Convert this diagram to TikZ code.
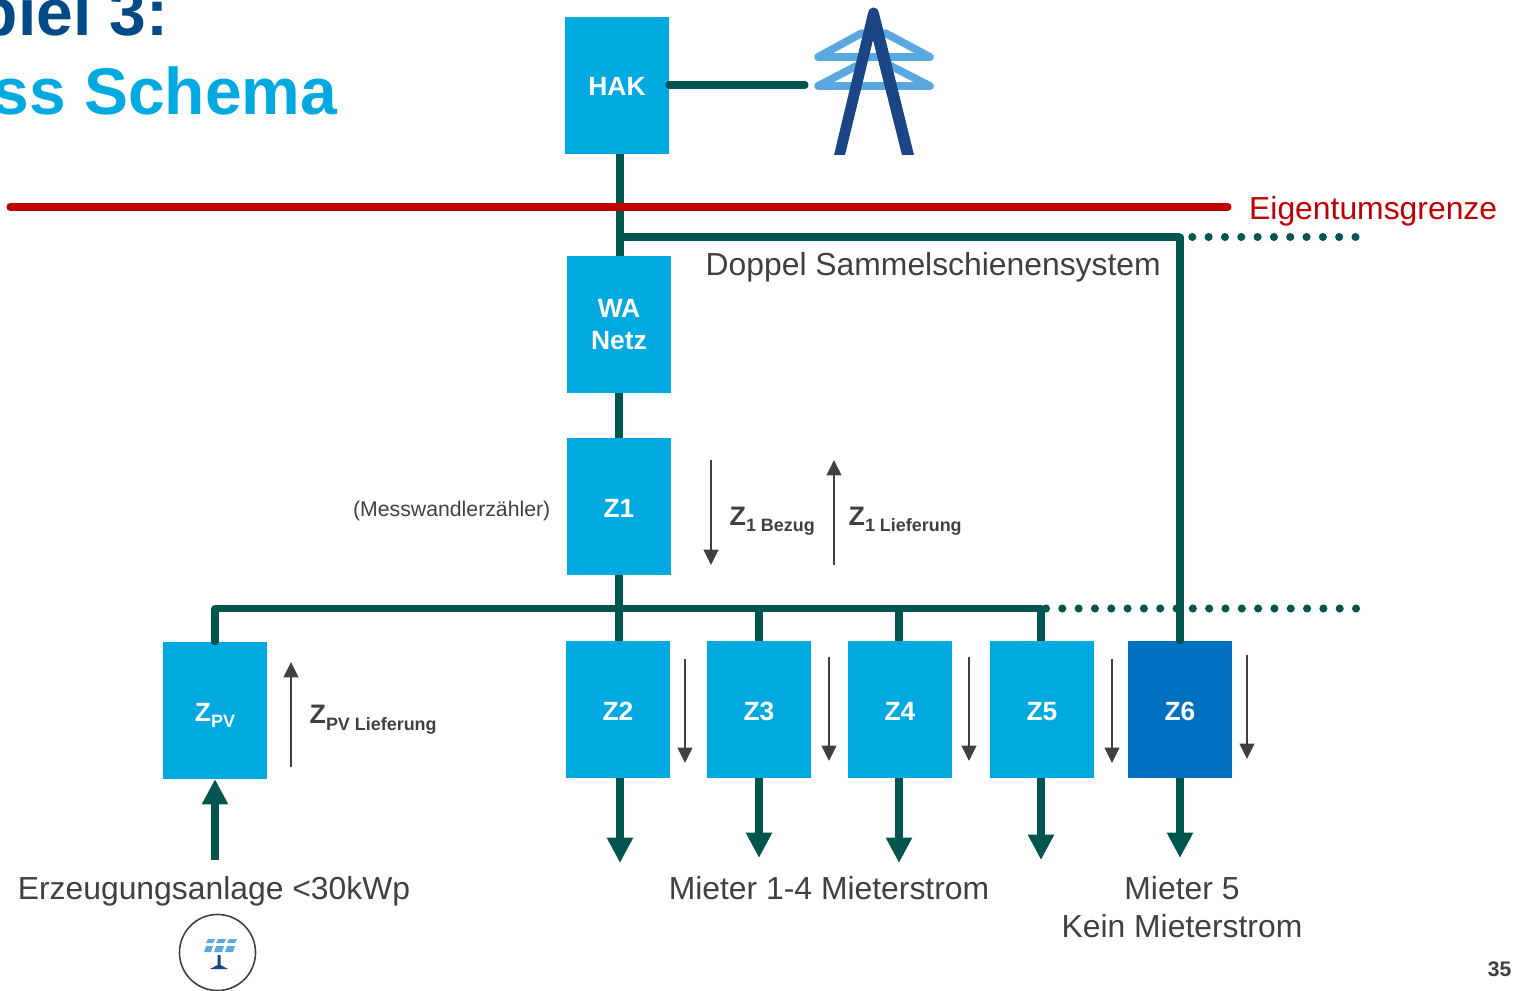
\documentclass[tikz,border=0pt]{standalone}
\usepackage{fontspec}
\setmainfont{Liberation Sans}
\usetikzlibrary{arrows.meta}
\definecolor{boxblue}{HTML}{00A9E0}
\definecolor{darkbox}{HTML}{0070C0}
\definecolor{titleblue}{HTML}{004B87}
\definecolor{busgreen}{HTML}{00564F}
\definecolor{limitred}{HTML}{C00000}
\definecolor{textgrey}{HTML}{404040}
\definecolor{masthigh}{HTML}{5BA8E0}
\definecolor{mastdark}{HTML}{1B4585}
\newcommand{\zsub}[1]{\raisebox{-0.45ex}{\fontsize{5.1pt}{6pt}\selectfont #1}}
\tikzset{
  zbox/.style={fill=boxblue,minimum width=1.04cm,minimum height=1.37cm,inner sep=0pt,outer sep=0pt,text=white,font=\fontsize{7.5pt}{9.2pt}\selectfont\bfseries,align=center},
  zline/.style={zbox,text height=6.2pt,text depth=0pt},
  busline/.style={draw=busgreen,line width=2pt,line join=round},
  feedarrow/.style={busline,-{Triangle[width=7pt,length=7.2pt]}},
  flowarrow/.style={draw=textgrey,line width=0.55pt,-{Triangle[width=4.2pt,length=4.4pt]}},
  dotline/.style={draw=busgreen,line width=2.3pt,line cap=round,dash pattern=on 0pt off 4.64pt},
  biglabel/.style={text=textgrey,font=\fontsize{9.06pt}{10.8pt}\selectfont,align=center,inner sep=0pt},
  flowlabel/.style={text=textgrey,anchor=base west,inner sep=0pt,font=\fontsize{7.6pt}{9pt}\selectfont\bfseries},
  masthighline/.style={draw=masthigh,line width=2.2pt,line join=round,line cap=round}
}
\begin{document}
\begin{tikzpicture}[x=0.01cm,y=-0.01cm]
\useasboundingbox (0,0) rectangle (1517,991);
\clip (0,0) rectangle (1517,991);
\node[anchor=base east,inner sep=0pt,text=titleblue,font=\fontsize{18.75pt}{20pt}\selectfont\bfseries] (title1) at (169,36) {piel 3:};
\node[anchor=base east,inner sep=0pt,text=boxblue,font=\fontsize{18.75pt}{20pt}\selectfont\bfseries] (title2) at (338,115) {ss Schema};
\node[zline,text height=5.6pt] (hak) at (617,85.5) {HAK};
\node[zbox] (wa) at (619,324.5) {WA\\Netz};
\node[zline] (z1) at (619,506.5) {Z1};
\node[zline] (zpv) at (215,710.5) {Z\zsub{PV}};
\node[zline] (z2) at (618,709.5) {Z2};
\node[zline] (z3) at (759,709.5) {Z3};
\node[zline] (z4) at (900,709.5) {Z4};
\node[zline] (z5) at (1042,709.5) {Z5};
\node[zline,fill=darkbox] (z6) at (1180,709.5) {Z6};
\coordinate (trunktop) at (620,237);
\coordinate (railend) at (1180,237);
\coordinate (raildots) at (1360,237);
\coordinate (barleft) at (215,608.5);
\coordinate (barright) at (1041,608.5);
\coordinate (bardots) at (1360,608.5);
\coordinate (mastfoot) at (805,85);
\coordinate (limitleft) at (10,207);
\coordinate (limitright) at (1228,207);
\coordinate (tip2) at (620,863);
\coordinate (tip3) at (759,858);
\coordinate (tip4) at (899,863);
\coordinate (tip5) at (1041,860);
\coordinate (tip6) at (1180,858);
\coordinate (plantend) at (215,860);
\draw[busline,line cap=round] (hak.east |- mastfoot) -- (mastfoot);
\draw[busline] (hak.south -| trunktop) -- (wa.north -| trunktop);
\draw[busline] (trunktop) -- (railend);
\draw[busline,line cap=round] (railend) -- (z6.north);
\draw[busline] (wa) -- (z1);
\draw[busline] (z1.south) -- (z2.north -| z1.south);
\draw[busline,line cap=round] (zpv.north) -- (barleft) -- (barright);
\draw[busline] (barright) -- (barright |- z5.north);
\draw[busline] (z3.north) -- (z3.north |- barleft);
\draw[busline] (tip4 |- z4.north) -- (tip4 |- barleft);
\draw[dotline] (1176,237) -- (raildots);
\draw[dotline] (1046,608.5) -- (bardots);
\draw[draw=limitred,line width=2pt,line cap=round] (limitleft) -- (limitright);
\draw[feedarrow] (z2.south -| tip2) -- (tip2);
\draw[feedarrow] (z3.south -| tip3) -- (tip3);
\draw[feedarrow] (z4.south -| tip4) -- (tip4);
\draw[feedarrow] (z5.south -| tip5) -- (tip5);
\draw[feedarrow] (z6.south) -- (tip6);
\draw[feedarrow] (plantend) -- (zpv.south);
\draw[flowarrow] (711,460) -- (711,565);
\draw[flowarrow] (834,565) -- (834,460);
\draw[flowarrow] (291,767) -- (291,662);
\draw[flowarrow] (685,659) -- (685,763);
\draw[flowarrow] (829,657) -- (829,761);
\draw[flowarrow] (969,657) -- (969,761);
\draw[flowarrow] (1112,659) -- (1112,763);
\draw[flowarrow] (1247,655) -- (1247,759);
\node[flowlabel] (lbezug) at (729,525) {Z\zsub{1 Bezug}};
\node[flowlabel] (lliefer) at (848,525) {Z\zsub{1 Lieferung}};
\node[flowlabel] (lpv) at (309,724) {Z\zsub{PV Lieferung}};
\node[biglabel,anchor=base west,text=limitred] (limit) at (1248.5,219.5) {Eigentumsgrenze};
\node[biglabel,anchor=base west] (doppel) at (705,275.5) {Doppel Sammelschienensystem};
\node[biglabel,anchor=base east,font=\fontsize{6.04pt}{7pt}\selectfont] (wandler) at (551,517) {(Messwandlerzähler)};
\node[biglabel,anchor=base] (plant) at (214,899.5) {Erzeugungsanlage <30kWp};
\node[biglabel,anchor=base] (mieter14) at (829,899.5) {Mieter 1-4 Mieterstrom};
\node[biglabel] (mieter5) at (1182,907) {Mieter 5\\Kein Mieterstrom};
\node[anchor=east,inner sep=0pt,text=textgrey,font=\fontsize{6pt}{7pt}\selectfont\bfseries] (page) at (1512,969) {35};
\draw[masthighline] (862,33) -- (818,57) -- (930,57) -- (885,33);
\draw[masthighline] (862,63) -- (818,86) -- (930,86) -- (885,63);
\fill[mastdark] (834,155) -- (868,13) arc[start angle=180,end angle=360,radius=5.5] -- (914,155) -- (902,155) -- (873,40) -- (845,155) -- cycle;
\node[draw=textgrey,line width=0.45pt,circle,minimum size=0.76cm,inner sep=0pt] (solar) at (217.5,952.5) {};
\fill[masthigh] (208,939) -- (215,939) -- (213,943) -- (206,943) -- cycle;
\fill[masthigh] (218,939) -- (226,939) -- (224,943) -- (216,943) -- cycle;
\fill[masthigh] (229,939) -- (237,939) -- (235,943) -- (227,943) -- cycle;
\fill[masthigh] (206,946) -- (213,946) -- (211,952) -- (204,952) -- cycle;
\fill[masthigh] (216,946) -- (224,946) -- (222,952) -- (214,952) -- cycle;
\fill[masthigh] (227,946) -- (235,946) -- (233,952) -- (225,952) -- cycle;
\fill[mastdark] (217.5,955) -- (220.5,955) -- (220.5,965) -- (228,969) -- (210,969) -- (217.5,965) -- cycle;
\end{tikzpicture}
\end{document}
